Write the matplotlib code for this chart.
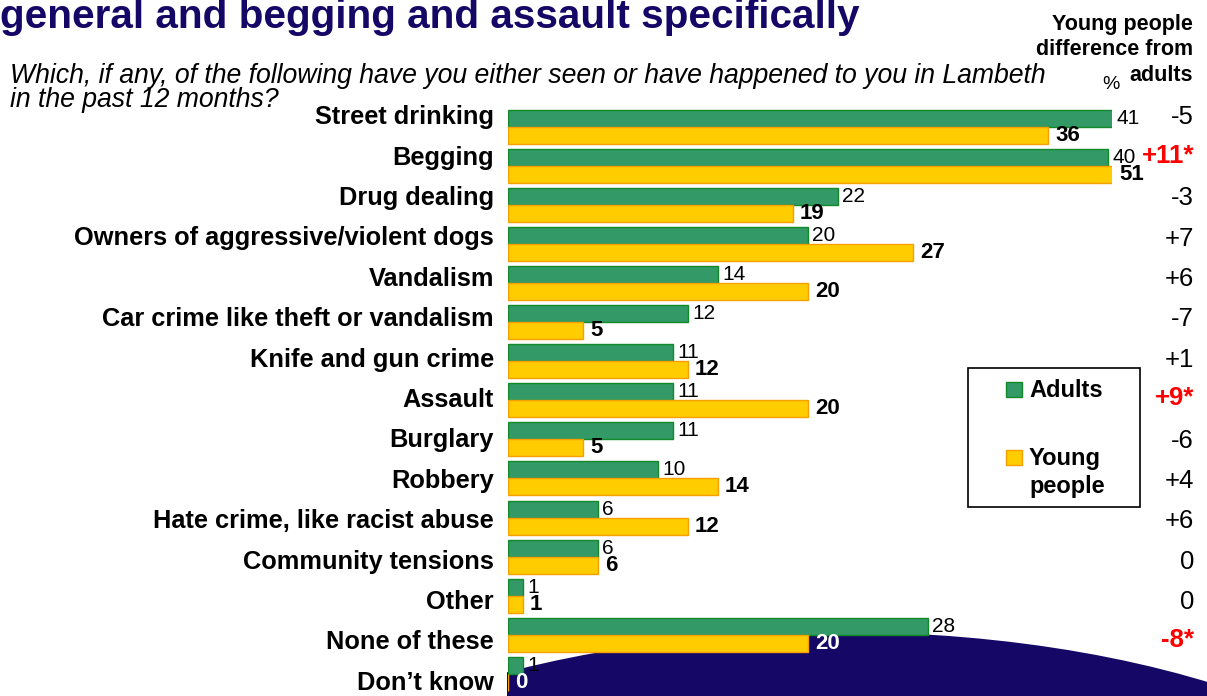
import matplotlib
matplotlib.use("Agg")
import matplotlib.pyplot as plt
from matplotlib.patches import Ellipse, Rectangle

plt.rcParams['font.family'] = ['Liberation Sans', 'DejaVu Sans']

# ---------------- data ----------------
categories = ["Street drinking", "Begging", "Drug dealing",
              "Owners of aggressive/violent dogs", "Vandalism",
              "Car crime like theft or vandalism", "Knife and gun crime",
              "Assault", "Burglary", "Robbery", "Hate crime, like racist abuse",
              "Community tensions", "Other", "None of these", "Don\u2019t know"]
adults = [41, 40, 22, 20, 14, 12, 11, 11, 11, 10, 6, 6, 1, 28, 1]
young = [36, 51, 19, 27, 20, 5, 12, 20, 5, 14, 12, 6, 1, 20, 0]
significant = [False, True, False, False, False, False, False, True,
               False, False, False, False, False, True, None]
series_names = ["Adults", "Young people"]

title = "general and begging and assault specifically"
subtitle1 = "Which, if any, of the following have you either seen or have happened to you in Lambeth"
subtitle2 = "in the past 12 months?"
header_lines = ["Young people", "difference from", "adults"]

# ---------------- style ----------------
GREEN, GREEN_EDGE = "#339966", "#138a2a"
YELLOW, YELLOW_EDGE = "#FFCC00", "#F5A000"
NAVY = "#150766"
W, H = 1207, 696

def fx(px):
    return px / W

def fy(py):
    return 1 - py / H

fig = plt.figure(figsize=(W / 100, H / 100), dpi=100)
fig.patch.set_facecolor("white")

# decorative navy ellipse at the bottom (behind axes), clipped on the left
ell = Ellipse((fx(840), fy(900)), 1264 / W, 536 / H, transform=fig.transFigure,
              facecolor=NAVY, edgecolor="none", zorder=-1)
clip_rect = Rectangle((fx(507), 0), 1 - fx(507), 1, transform=fig.transFigure,
                      facecolor="none", edgecolor="none")
ell.set_clip_path(clip_rect)
fig.patches.append(ell)

# axes: x 508..1112 px, y 107..696 px
ax_left, ax_right, ax_top, ax_bot = 508, 1112, 107, 696
ax = fig.add_axes([fx(ax_left), fy(ax_bot), (ax_right - ax_left) / W, (ax_bot - ax_top) / H])
ax.set_facecolor("none")
px_per_unit = 15.0
xmax = (ax_right - ax_left) / px_per_unit
row_px = 39.1
ymax = -0.5 + (ax_bot - ax_top) / row_px
ax.set_xlim(0, xmax)
ax.set_ylim(ymax, -0.5)
for s in ax.spines.values():
    s.set_visible(False)
ax.set_xticks([])
ax.set_yticks([])

n = len(categories)
pos = list(range(n))
bh = 0.435
ax.barh([p - bh / 2 for p in pos], adults, height=bh, color=GREEN,
        edgecolor=GREEN_EDGE, linewidth=1.0)
ax.barh([p + bh / 2 for p in pos], young, height=bh, color=YELLOW,
        edgecolor=YELLOW_EDGE, linewidth=1.0)

for i in range(n):
    a, y = adults[i], young[i]
    ax.annotate(str(a), (min(a, xmax), i - bh / 2), xytext=(3, 0),
                textcoords="offset points", ha="left", va="center",
                fontsize=15, color="black")
    col = "white" if i >= 13 else "black"
    ax.annotate(str(y), (min(y, xmax), i + bh / 2), xytext=(5, 0),
                textcoords="offset points", ha="left", va="center",
                fontsize=16, fontweight="bold", color=col)

# category labels and difference column
for i, cat in enumerate(categories):
    base = 124.3 + 40.4 * i
    fig.text(fx(494), fy(base), cat, ha="right", va="baseline",
             fontsize=18.3, fontweight="bold", color="black")
    if significant[i] is not None:
        d = young[i] - adults[i]
        txt = ("+%d" % d if d > 0 else "%d" % d)
        if significant[i]:
            fig.text(fx(1194), fy(base - 2), txt + "*", ha="right", va="baseline",
                     fontsize=18.5, fontweight="bold", color="#FF0000")
        else:
            fig.text(fx(1194), fy(base), txt, ha="right", va="baseline",
                     fontsize=18.5, color="black")

# title / subtitle
fig.text(fx(0), fy(28), title, ha="left", va="baseline", fontsize=29.2,
         fontweight="bold", color=NAVY)
fig.text(fx(10), fy(83), subtitle1, ha="left", va="baseline", fontsize=19.2,
         style="italic", color="black")
fig.text(fx(10), fy(107), subtitle2, ha="left", va="baseline", fontsize=19.2,
         style="italic", color="black")

# right header
for txt, b in zip(header_lines, [30, 55, 81]):
    fig.text(fx(1193), fy(b), txt, ha="right", va="baseline", fontsize=15.5,
             fontweight="bold", color="black")
fig.text(fx(1102), fy(89), "%", ha="left", va="baseline", fontsize=14, color="black")

# legend box
box = Rectangle((fx(968), fy(507)), (1140 - 968) / W, (507 - 368) / H,
                transform=fig.transFigure, facecolor="white", edgecolor="black",
                linewidth=1.2, zorder=5)
fig.patches.append(box)
fig.patches.append(Rectangle((fx(1006), fy(397)), 16 / W, 15 / H, transform=fig.transFigure,
                             facecolor=GREEN, edgecolor=GREEN_EDGE, linewidth=1, zorder=6))
fig.patches.append(Rectangle((fx(1006), fy(465)), 16 / W, 15 / H, transform=fig.transFigure,
                             facecolor=YELLOW, edgecolor=YELLOW_EDGE, linewidth=1, zorder=6))
fig.text(fx(1029), fy(397), series_names[0], ha="left", va="baseline", fontsize=17,
         fontweight="bold", color="black", zorder=7)
yp = series_names[1].split(" ")
fig.text(fx(1029), fy(465), yp[0], ha="left", va="baseline", fontsize=17,
         fontweight="bold", color="black", zorder=7)
fig.text(fx(1029), fy(493), yp[1], ha="left", va="baseline", fontsize=17,
         fontweight="bold", color="black", zorder=7)

fig.savefig("out.png", dpi=100)
